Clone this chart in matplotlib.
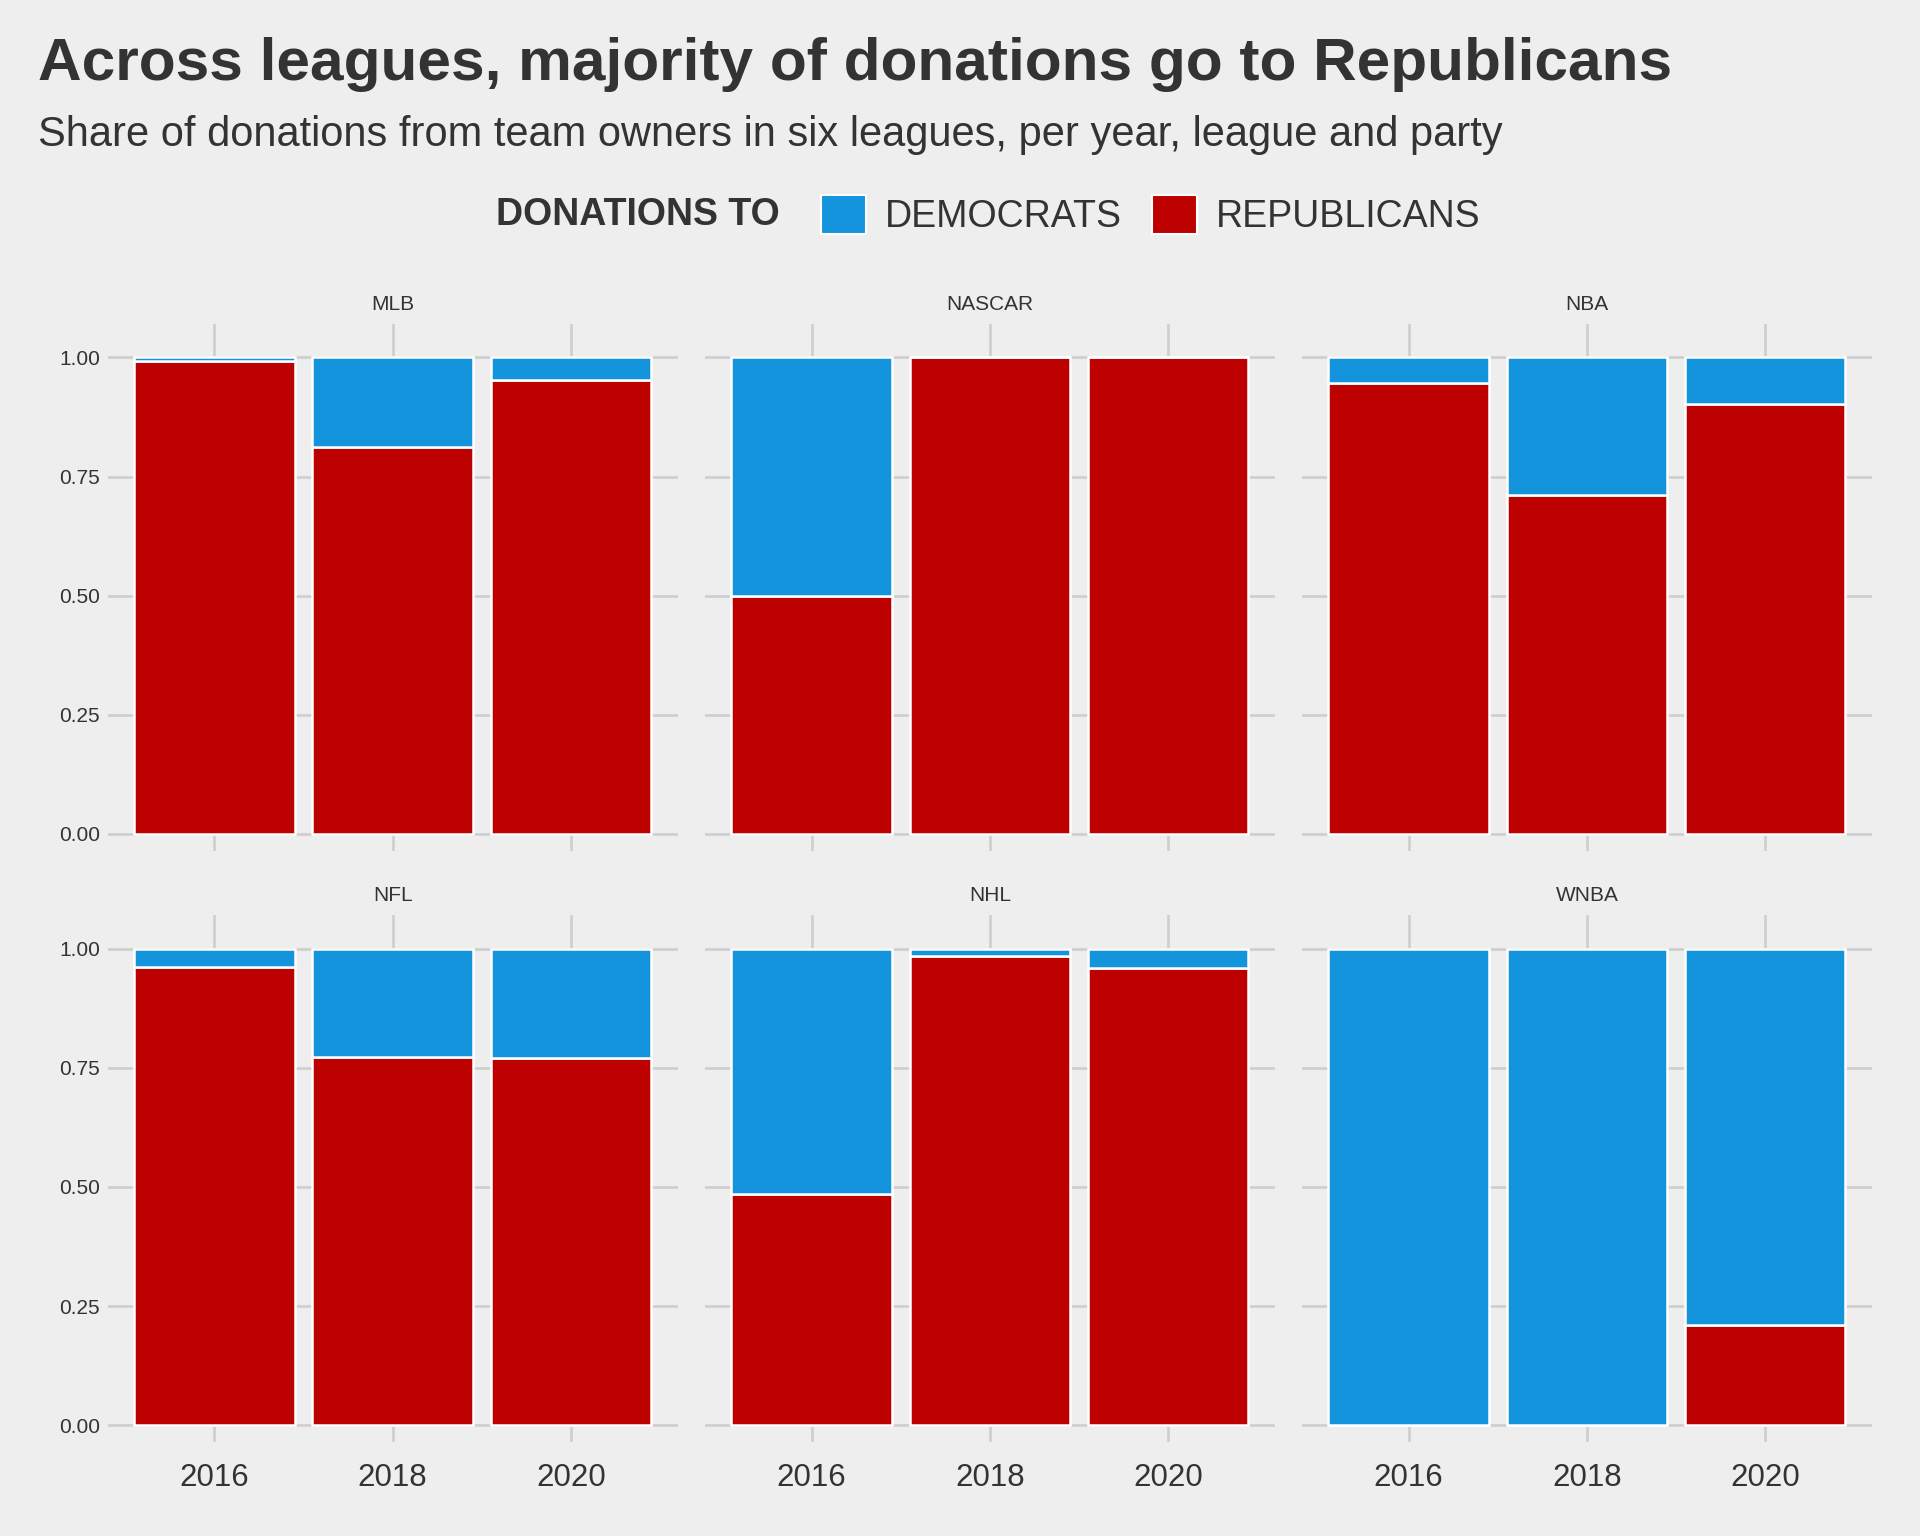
import matplotlib
matplotlib.use("Agg")
import matplotlib.pyplot as plt
from matplotlib.patches import Patch

plt.rcParams['font.family'] = ['Liberation Sans', 'DejaVu Sans']

leagues = ["MLB", "NASCAR", "NBA", "NFL", "NHL", "WNBA"]
years = [2016, 2018, 2020]
# share to Republicans; Democrats is the rest
rep_share = {
    "MLB": [0.992, 0.812, 0.952],
    "NASCAR": [0.50, 1.0, 1.0],
    "NBA": [0.947, 0.712, 0.903],
    "NFL": [0.962, 0.772, 0.770],
    "NHL": [0.485, 0.985, 0.960],
    "WNBA": [0.0, 0.0, 0.21],
}

BG = "#EEEEEE"
DEM = "#1494DC"
REP = "#BD0000"
GRID = "#CFCFCF"
TXT = "#333333"

fig = plt.figure(figsize=(12.8, 10.24), dpi=150, facecolor=BG)

lefts = [0.056, 0.367, 0.678]
bottoms = [0.446, 0.061]
w, h = 0.297, 0.343

for i, lg in enumerate(leagues):
    r, c = divmod(i, 3)
    ax = fig.add_axes([lefts[c], bottoms[r], w, h], facecolor=BG)
    rep = rep_share[lg]
    dem = [1 - v for v in rep]
    ax.bar(years, rep, width=1.8, color=REP, edgecolor="white", linewidth=1.2, zorder=3)
    ax.bar(years, dem, bottom=rep, width=1.8, color=DEM, edgecolor="white", linewidth=1.2, zorder=3)
    ax.set_xlim(2014.8, 2021.2)
    ax.set_ylim(-0.036, 1.07)
    ax.set_xticks(years)
    ax.set_yticks([0, 0.25, 0.5, 0.75, 1.0])
    ax.grid(True, color=GRID, linewidth=1.3, zorder=0)
    for s in ax.spines.values():
        s.set_visible(False)
    ax.tick_params(length=0, colors=TXT)
    if c == 0:
        ax.set_yticklabels(["0.00", "0.25", "0.50", "0.75", "1.00"], fontsize=10)
    else:
        ax.set_yticklabels([])
    if r == 1:
        ax.set_xticklabels([str(y) for y in years], fontsize=15)
        ax.tick_params(axis="x", pad=10)
    else:
        ax.set_xticklabels([])
    ax.text(0.5, 1.02, lg, transform=ax.transAxes, ha="center", va="bottom",
            fontsize=10, color=TXT)

fig.text(0.02, 0.958, "Across leagues, majority of donations go to Republicans",
         fontsize=29, fontweight="bold", color=TXT, va="center")
fig.text(0.02, 0.912, "Share of donations from team owners in six leagues, per year, league and party",
         fontsize=20, color=TXT, va="center")
fig.text(0.406, 0.860, "DONATIONS TO", fontsize=18, fontweight="bold", color=TXT,
         ha="right", va="center")
handles = [Patch(facecolor=DEM, edgecolor="white", label="DEMOCRATS"),
           Patch(facecolor=REP, edgecolor="white", label="REPUBLICANS")]
leg = fig.legend(handles=handles, loc="center left", bbox_to_anchor=(0.410, 0.860),
                 ncol=2, frameon=False, fontsize=18, handlelength=1.2, handleheight=1.2,
                 columnspacing=0.8, handletextpad=0.5)
for t in leg.get_texts():
    t.set_color(TXT)

fig.savefig("out.png", dpi=150, facecolor=BG)
